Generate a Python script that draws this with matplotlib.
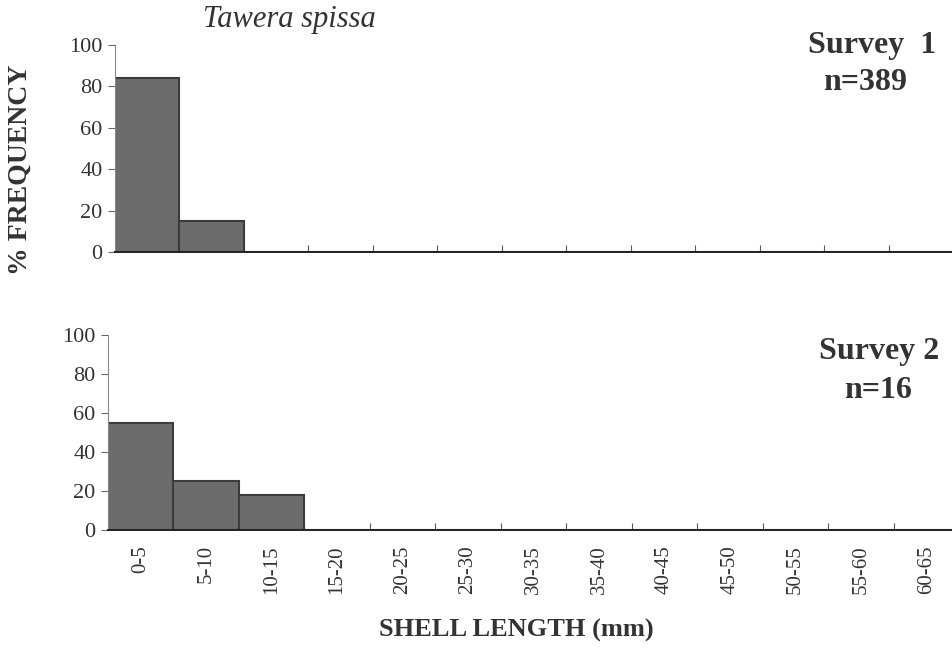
import matplotlib
matplotlib.use("Agg")
import matplotlib.pyplot as plt
import numpy as np

categories = ["0-5", "5-10", "10-15", "15-20", "20-25", "25-30", "30-35",
              "35-40", "40-45", "45-50", "50-55", "55-60", "60-65"]
survey1 = [84, 15, 0, 0, 0, 0, 0, 0, 0, 0, 0, 0, 0]
survey2 = [55, 25, 18, 0, 0, 0, 0, 0, 0, 0, 0, 0, 0]
yticks = [0, 20, 40, 60, 80, 100]

plt.rcParams['font.family'] = ['Liberation Serif', 'DejaVu Serif']
txt = '#333333'
bar_face = '#6c6c6c'
bar_edge = '#3c3c3c'

fig = plt.figure(figsize=(9.52, 6.48), dpi=100)
ax1 = fig.add_axes([115/952, 1-252/648, 838/952, 207/648])
ax2 = fig.add_axes([108/952, 1-530/648, 851/952, 195/648])

x = np.arange(len(categories))
for ax, vals in ((ax1, survey1), (ax2, survey2)):
    ax.bar(x, vals, width=1.0, color=bar_face, edgecolor=bar_edge, linewidth=1.5, zorder=2)
    ax.set_xlim(-0.5, len(categories) - 0.5)
    ax.set_ylim(0, 100)
    ax.set_yticks(yticks)
    ax.tick_params(axis='y', direction='out', length=5, width=0.8, colors='#666666',
                   labelsize=16, labelcolor=txt, pad=4)
    ax.set_xticks(np.arange(0.5, len(categories) - 0.5, 1.0))
    ax.set_xticklabels([])
    ax.tick_params(axis='x', which='major', direction='in', length=5, width=0.8, colors='#555555')
    for s in ('top', 'right'):
        ax.spines[s].set_visible(False)
    ax.spines['left'].set_color('#888888')
    ax.spines['left'].set_linewidth(0.8)
    ax.spines['bottom'].set_color('#222222')
    ax.spines['bottom'].set_linewidth(1.4)

ax2.set_xticks(x, minor=True)
ax2.set_xticklabels(categories, minor=True, rotation=90, fontsize=15, color=txt)
ax2.tick_params(axis='x', which='minor', length=0, pad=11)

fig.text(289/952, 1-19/648, "Tawera spissa", fontsize=22,
         style='italic', color=txt, ha='center', va='center')
fig.text(872/952, 1-45/648, "Survey  1", fontsize=23, fontweight='bold', color=txt,
         ha='center', va='center')
fig.text(865/952, 1-83/648, "n=389", fontsize=23, fontweight='bold', color=txt,
         ha='center', va='center')
fig.text(879/952, 1-352/648, "Survey 2", fontsize=23, fontweight='bold', color=txt,
         ha='center', va='center')
fig.text(878/952, 1-390/648, "n=16", fontsize=23, fontweight='bold', color=txt,
         ha='center', va='center')
fig.text(20/952, 1-170/648, "% FREQUENCY", rotation=90, fontsize=20, fontweight='bold',
         color=txt, ha='center', va='center')
fig.text(516/952, 1-630/648, "SHELL LENGTH (mm)", fontsize=19, fontweight='bold',
         color=txt, ha='center', va='center')

fig.savefig("out.png", dpi=100)
